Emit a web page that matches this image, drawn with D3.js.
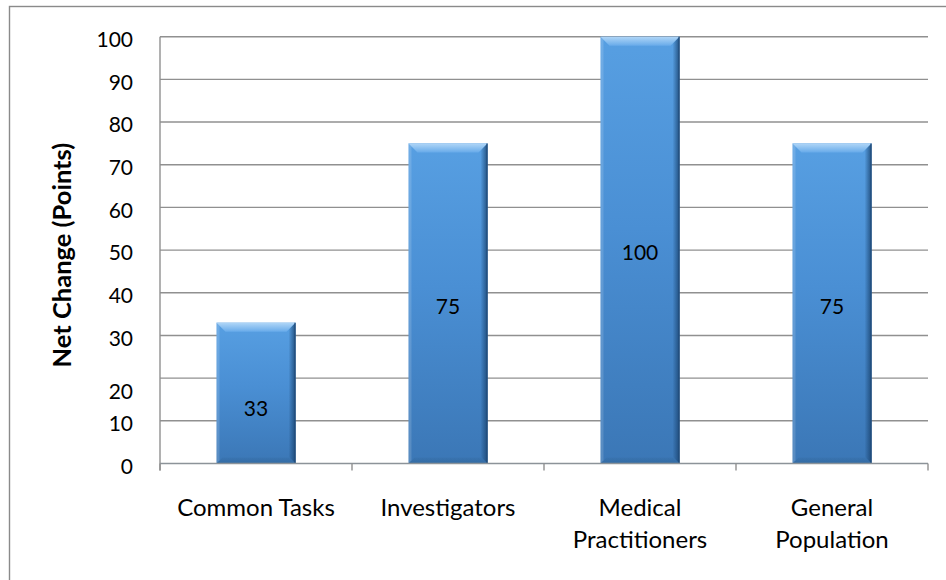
<!DOCTYPE html>
<html>
<head>
<meta charset="utf-8">
<script src="https://cdn.jsdelivr.net/npm/d3@7"></script>
<style>
  html, body { margin: 0; padding: 0; background: #fff; }
  svg { display: block; }
  text { font-family: Lato, "Open Sans", sans-serif; fill: #000; }
</style>
</head>
<body>
<svg id="chart" width="946" height="580"></svg>
<script>
// Chart data
const categories = ["Common Tasks", "Investigators", "Medical\nPractitioners", "General\nPopulation"];
const values = [33, 75, 100, 75];
const yTicks = [0, 10, 20, 30, 40, 50, 60, 70, 80, 90, 100];
const yTitle = "Net Change (Points)";

const W = 946, H = 580;
const margin = { left: 160, right: 18, top: 36.7, bottom: 116.5 };
const svg = d3.select("#chart");

const x = d3.scaleBand()
  .domain(categories)
  .range([margin.left, W - margin.right])
  .paddingInner(0.5885)
  .paddingOuter(0.5885 / 2);

const y = d3.scaleLinear()
  .domain([0, 100])
  .range([H - margin.bottom, margin.top]);

// Outer chart-area border
svg.append("rect")
  .attr("x", 9.5).attr("y", 6.5)
  .attr("width", W + 20).attr("height", H + 20)
  .attr("fill", "#fff")
  .attr("stroke", "#8a8a8a").attr("stroke-width", 1.4);

// Gradients for the bevelled bars
const defs = svg.append("defs");
const body = defs.append("linearGradient").attr("id", "barBody")
  .attr("x1", 0).attr("y1", 0).attr("x2", 0).attr("y2", 1);
body.append("stop").attr("offset", "0%").attr("stop-color", "#579fe2");
body.append("stop").attr("offset", "45%").attr("stop-color", "#4a8fd4");
body.append("stop").attr("offset", "100%").attr("stop-color", "#3b77b6");

const side = defs.append("linearGradient").attr("id", "barRight")
  .attr("x1", 0).attr("y1", 0).attr("x2", 1).attr("y2", 0);
side.append("stop").attr("offset", "0%").attr("stop-color", "#1a4470").attr("stop-opacity", 0);
side.append("stop").attr("offset", "100%").attr("stop-color", "#1a4470").attr("stop-opacity", 0.85);

const topBevel = defs.append("linearGradient").attr("id", "barTop")
  .attr("x1", 0).attr("y1", 0).attr("x2", 0).attr("y2", 1);
topBevel.append("stop").attr("offset", "0%").attr("stop-color", "#b0d6f7");
topBevel.append("stop").attr("offset", "100%").attr("stop-color", "#68abea");

const botBevel = defs.append("linearGradient").attr("id", "barBottom")
  .attr("x1", 0).attr("y1", 0).attr("x2", 0).attr("y2", 1);
botBevel.append("stop").attr("offset", "0%").attr("stop-color", "#2f6497").attr("stop-opacity", 0.2);
botBevel.append("stop").attr("offset", "100%").attr("stop-color", "#2f6497").attr("stop-opacity", 0.6);

// Horizontal gridlines
svg.append("g")
  .selectAll("line")
  .data(yTicks.filter(d => d > 0))
  .join("line")
  .attr("x1", margin.left).attr("x2", W - margin.right)
  .attr("y1", d => y(d)).attr("y2", d => y(d))
  .attr("stroke", "#909090").attr("stroke-width", 1.4);

// Y axis line and labels
svg.append("line")
  .attr("x1", margin.left).attr("x2", margin.left)
  .attr("y1", y(100)).attr("y2", y(0) + 7)
  .attr("stroke", "#909090").attr("stroke-width", 1.4);

const yLabelNudge = { 20: 11 };
svg.append("g")
  .selectAll("text")
  .data(yTicks)
  .join("text")
  .attr("x", 133)
  .attr("y", d => y(d) + 5 + (yLabelNudge[d] || 0))
  .attr("text-anchor", "end")
  .attr("dominant-baseline", "middle")
  .style("font-size", "21px")
  .text(d => d);

// Y axis title
svg.append("text")
  .attr("transform", `translate(71, ${(y(0) + y(100)) / 2 + 5}) rotate(-90)`)
  .attr("text-anchor", "middle")
  .style("font-size", "25.5px")
  .style("font-weight", "bold")
  .text(yTitle);

// Bars
const bevel = 9;
const bars = svg.append("g").selectAll("g")
  .data(categories.map((c, i) => ({ c, v: values[i] })))
  .join("g");

bars.each(function (d) {
  const g = d3.select(this);
  const bx = x(d.c), bw = x.bandwidth();
  const by = y(d.v), bh = y(0) - y(d.v);
  g.append("rect").attr("x", bx).attr("y", by).attr("width", bw).attr("height", bh)
    .attr("fill", "url(#barBody)");
  // top bevel
  g.append("path")
    .attr("d", `M${bx},${by}L${bx + bw},${by}L${bx + bw - bevel},${by + bevel}L${bx + bevel},${by + bevel}Z`)
    .attr("fill", "url(#barTop)");
  // left highlight
  g.append("path")
    .attr("d", `M${bx},${by}L${bx + 3},${by + 3}L${bx + 3},${by + bh - 3}L${bx},${by + bh}Z`)
    .attr("fill", "#ffffff").attr("fill-opacity", 0.15);
  // right shadow
  g.append("path")
    .attr("d", `M${bx + bw - 7},${by + 7}L${bx + bw},${by}L${bx + bw},${by + bh}L${bx + bw - 7},${by + bh - 7}Z`)
    .attr("fill", "url(#barRight)");
  // bottom shade
  g.append("path")
    .attr("d", `M${bx},${by + bh}L${bx + 6},${by + bh - 6}L${bx + bw - 6},${by + bh - 6}L${bx + bw},${by + bh}Z`)
    .attr("fill", "url(#barBottom)");
  // thin outline on the right edge
  g.append("line")
    .attr("x1", bx + bw - 0.5).attr("x2", bx + bw - 0.5)
    .attr("y1", by).attr("y2", by + bh)
    .attr("stroke", "#214b78").attr("stroke-width", 1);
});

// Value labels
const valueNudge = { 33: 13 };
svg.append("g").selectAll("text")
  .data(categories.map((c, i) => ({ c, v: values[i] })))
  .join("text")
  .attr("x", d => x(d.c) + x.bandwidth() / 2)
  .attr("y", d => (y(d.v) + y(0)) / 2 + 5 + (valueNudge[d.v] || 0))
  .attr("text-anchor", "middle")
  .attr("dominant-baseline", "middle")
  .style("font-size", "21px")
  .text(d => d.v);

// X axis line with boundary ticks
svg.append("line")
  .attr("x1", margin.left).attr("x2", W - margin.right)
  .attr("y1", y(0)).attr("y2", y(0))
  .attr("stroke", "#8c9399").attr("stroke-width", 1.6);

const step = x.step();
svg.append("g").selectAll("line")
  .data(d3.range(categories.length + 1))
  .join("line")
  .attr("x1", i => margin.left + i * step).attr("x2", i => margin.left + i * step)
  .attr("y1", y(0)).attr("y2", y(0) + 7)
  .attr("stroke", "#909090").attr("stroke-width", 1.4);

// Category labels (multi-line)
const catLabels = svg.append("g").selectAll("text")
  .data(categories)
  .join("text")
  .attr("text-anchor", "middle")
  .style("font-size", "24px");
catLabels.each(function (d) {
  const lines = d.split("\n");
  d3.select(this).selectAll("tspan")
    .data(lines)
    .join("tspan")
    .attr("x", x(d) + x.bandwidth() / 2)
    .attr("y", (l, i) => 508 + 8 + i * 31.5)
    .text(l => l);
});
</script>
</body>
</html>
